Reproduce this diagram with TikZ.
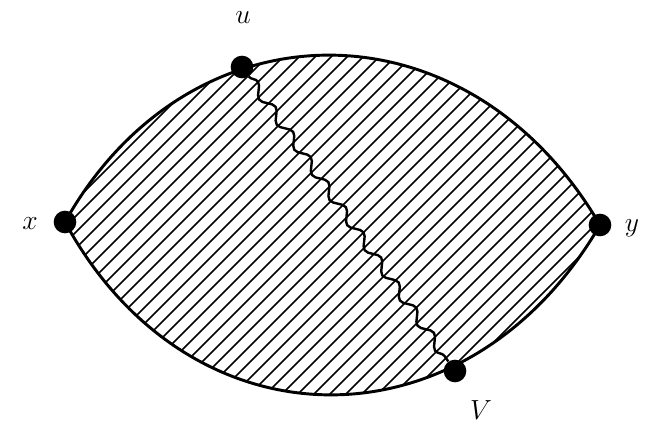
\documentclass[tikz,border=0pt]{standalone}
\usetikzlibrary{decorations.pathmorphing}

\begin{document}
\begin{tikzpicture}[x=0.75pt,y=-0.75pt,
	vertex/.style={circle,fill=black,inner sep=0pt,minimum size=17pt},
	lbl/.style={font=\fontsize{21}{25}\selectfont},
	hatch/.style={line width=1.3pt},
	rim/.style={line width=2.2pt}]
	\useasboundingbox (0,0) rectangle (654,428);
	\begin{scope}
		\clip (65,222) .. controls (190,-1) and (468,-1) .. (600,225) .. controls (468,452) and (190,452) .. (65,222);
		\foreach \i in {-440,-424,...,680}
			\draw[hatch] (\i,428) -- ++(428,-428);
	\end{scope}
	\draw[rim] (65,222) .. controls (190,-1) and (468,-1) .. (600,225) .. controls (468,452) and (190,452) .. (65,222);
	\node[vertex] (x) at (65,222) {};
	\node[vertex] (y) at (600,225) {};
	\node[vertex] (u) at (242,67) {};
	\node[vertex] (v) at (455,371) {};
	\draw[line width=1.8pt, decorate, decoration={snake, segment length=23pt, amplitude=3.5pt}] (u) -- (v);
	\node[lbl] (lx) at (30,224) {$x$};
	\node[lbl] (ly) at (632,228) {$y$};
	\node[lbl] (lu) at (243,18) {$u$};
	\node[lbl] (lv) at (481,410) {$V$};
\end{tikzpicture}
\end{document}
